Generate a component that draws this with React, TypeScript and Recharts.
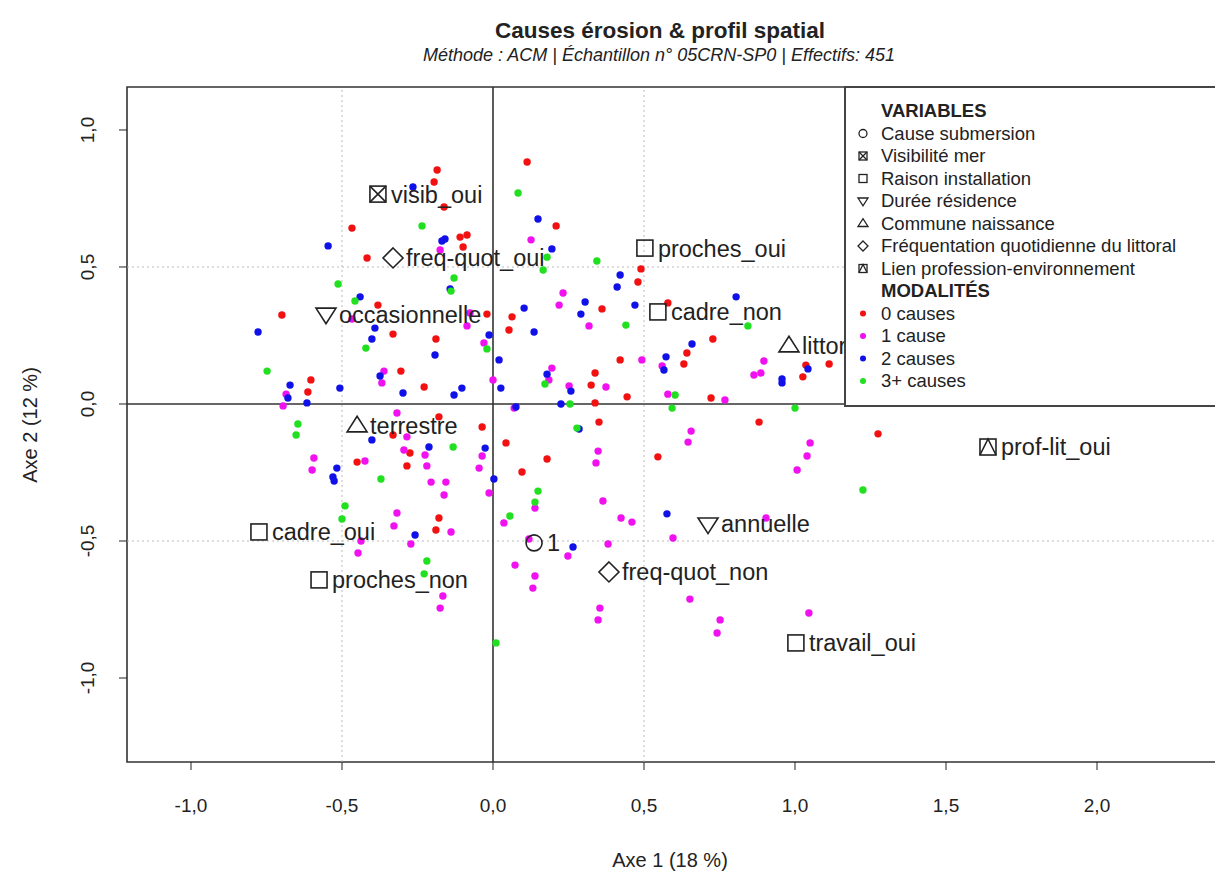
import React from 'react';
import {
  ScatterChart,
  Scatter,
  XAxis,
  YAxis,
  ReferenceLine,
  ReferenceArea,
} from 'recharts';

// individus (ACM), coordonnées : [axe 1, axe 2]
const cause0: [number, number][] = [
  [-0.185, 0.854], [-0.195, 0.81], [-0.162, 0.719], [-0.467, 0.642], [-0.417, 0.533],
  [-0.381, 0.361], [-0.699, 0.325], [-0.109, 0.609], [-0.086, 0.617], [-0.099, 0.573],
  [0.113, 0.883], [0.209, 0.65], [0.49, 0.493], [0.48, 0.445], [0.361, 0.347],
  [0.063, 0.318], [-0.02, 0.328], [0.579, 0.369], [-0.331, 0.255], [-0.189, 0.237],
  [-0.305, 0.12], [-0.603, 0.088], [-0.613, 0.044], [-0.228, 0.062], [-0.179, -0.047],
  [-0.331, -0.113], [-0.275, -0.179], [-0.45, -0.212], [-0.285, -0.226], [0.053, 0.27],
  [0.421, 0.161], [0.338, 0.113], [0.325, 0.069], [0.444, 0.026], [0.338, 0.004],
  [0.351, -0.066], [-0.036, -0.084], [0.043, -0.142], [0.546, -0.193], [0.179, -0.201],
  [0.096, -0.248], [0.728, 0.237], [0.642, 0.186], [0.632, 0.146], [1.036, 0.142],
  [1.026, 0.099], [1.113, 0.146], [0.722, 0.022], [0.881, -0.066], [1.275, -0.109],
  [-0.179, -0.416], [-0.189, -0.46],
];

const cause1: [number, number][] = [
  [-0.175, 0.562], [0.126, 0.599], [0.232, 0.405], [0.219, 0.361], [-0.076, 0.332],
  [-0.467, 0.31], [-0.361, 0.12], [-0.368, 0.077], [-0.685, 0.036], [-0.695, -0.007],
  [-0.318, -0.033], [-0.285, -0.12], [-0.295, -0.168], [-0.225, -0.186], [-0.424, -0.208],
  [-0.593, -0.197], [-0.219, -0.226], [-0.599, -0.241], [-0.205, -0.285], [-0.156, -0.285],
  [-0.086, 0.285], [0.318, 0.285], [-0.03, 0.223], [0.493, 0.161], [0.56, 0.139],
  [0.195, 0.131], [0.185, 0.088], [0.374, 0.062], [0.252, 0.066], [0.579, 0.036],
  [0.0, 0.088], [0.07, -0.015], [0.348, -0.172], [0.341, -0.215], [-0.036, -0.19],
  [-0.046, -0.234], [0.897, 0.157], [0.864, 0.106], [0.887, 0.113], [0.768, 0.015],
  [0.656, -0.099], [0.646, -0.139], [1.05, -0.142], [1.04, -0.19], [1.007, -0.241],
  [-0.162, -0.332], [-0.318, -0.398], [-0.328, -0.445], [-0.139, -0.467], [-0.437, -0.5],
  [-0.272, -0.511], [-0.447, -0.544], [-0.166, -0.701], [-0.175, -0.745], [-0.013, -0.325],
  [0.139, -0.38], [0.036, -0.434], [0.364, -0.354], [0.424, -0.416], [0.46, -0.431],
  [0.381, -0.511], [0.248, -0.555], [0.073, -0.588], [0.139, -0.628], [0.132, -0.672],
  [0.354, -0.745], [0.348, -0.788], [0.904, -0.416], [0.596, -0.489], [0.652, -0.712],
  [0.752, -0.788], [0.742, -0.836], [1.046, -0.763], [0.119, -0.493],
];

const cause2: [number, number][] = [
  [-0.265, 0.792], [-0.169, 0.595], [-0.159, 0.602], [-0.546, 0.577], [-0.142, 0.42],
  [-0.44, 0.391], [0.149, 0.675], [0.195, 0.566], [0.421, 0.471], [0.411, 0.427],
  [0.305, 0.372], [0.291, 0.328], [0.47, 0.361], [0.103, 0.35], [0.805, 0.391],
  [-0.778, 0.263], [-0.391, 0.277], [-0.401, 0.237], [-0.192, 0.179], [-0.374, 0.102],
  [-0.672, 0.069], [-0.507, 0.058], [-0.298, 0.04], [-0.129, 0.033], [-0.679, 0.022],
  [-0.616, 0.004], [-0.401, -0.131], [-0.212, -0.157], [-0.517, -0.234], [-0.53, -0.266],
  [-0.526, -0.281], [0.136, 0.263], [-0.013, 0.252], [0.02, 0.161], [0.573, 0.172],
  [0.566, 0.124], [0.179, 0.109], [0.258, 0.047], [0.026, 0.058], [-0.103, 0.058],
  [0.076, -0.011], [0.225, 0.0], [0.285, -0.091], [-0.026, -0.161], [0.003, -0.274],
  [0.659, 0.219], [0.957, 0.091], [0.957, 0.077], [1.043, 0.128], [-0.258, -0.478],
  [0.265, -0.522], [0.576, -0.401],
];

const cause3: [number, number][] = [
  [-0.235, 0.65], [0.083, 0.77], [0.179, 0.536], [0.166, 0.489], [0.344, 0.522],
  [-0.129, 0.46], [-0.139, 0.412], [-0.513, 0.438], [-0.457, 0.376], [-0.421, 0.204],
  [-0.748, 0.12], [-0.646, -0.073], [-0.652, -0.113], [-0.132, -0.157], [-0.371, -0.274],
  [0.44, 0.288], [-0.02, 0.201], [0.172, 0.073], [0.255, 0.0], [0.278, -0.088],
  [0.844, 0.285], [0.603, 0.033], [0.593, -0.015], [1.0, -0.015], [-0.49, -0.372],
  [-0.5, -0.42], [-0.219, -0.573], [-0.228, -0.62], [0.149, -0.318], [0.139, -0.358],
  [0.056, -0.409], [0.01, -0.872], [1.225, -0.314],
];

// modalités des variables actives
const varCauseSubmersion = [{ name: '1', x: 0.136, y: -0.507 }];
const varVisibiliteMer = [{ name: 'visib_oui', x: -0.381, y: 0.766 }];
const varRaisonInstallation = [
  { name: 'proches_oui', x: 0.503, y: 0.569 },
  { name: 'cadre_non', x: 0.546, y: 0.336 },
  { name: 'cadre_oui', x: -0.775, y: -0.467 },
  { name: 'proches_non', x: -0.576, y: -0.642 },
  { name: 'travail_oui', x: 1.003, y: -0.872 },
];
const varDureeResidence = [
  { name: 'occasionnelle', x: -0.553, y: 0.328 },
  { name: 'annuelle', x: 0.712, y: -0.438 },
];
const varCommuneNaissance = [
  { name: 'littoral', x: 0.98, y: 0.212 },
  { name: 'terrestre', x: -0.45, y: -0.08 },
];
const varFrequentation = [
  { name: 'freq-quot_oui', x: -0.331, y: 0.533 },
  { name: 'freq-quot_non', x: 0.384, y: -0.613 },
];
const varLienProfession = [{ name: 'prof-lit_oui', x: 1.639, y: -0.157 }];

const variableNames = [
  'Cause submersion',
  'Visibilité mer',
  'Raison installation',
  'Durée résidence',
  'Commune naissance',
  'Fréquentation quotidienne du littoral',
  'Lien profession-environnement',
];
const modaliteNames = ['0 causes', '1 cause', '2 causes', '3+ causes'];

const xTicks = [-1, -0.5, 0, 0.5, 1, 1.5, 2];
const yTicks = [-1, -0.5, 0, 0.5, 1];

const FONT = '"Liberation Sans", Arial, Helvetica, sans-serif';
const INK = '#222';
const COLORS = ['#f21010', '#f010f0', '#1010e8', '#20e020'];
const KINDS = ['circle', 'boxX', 'square', 'triDown', 'triUp', 'diamond', 'boxTri'];

const X_DOMAIN: [number, number] = [-1.2119, 2.4735];
const Y_DOMAIN: [number, number] = [-1.3066, 1.1569];

const toPts = (arr: [number, number][]) => arr.map(([x, y]) => ({ x, y }));
const fmt = (v: number) => v.toFixed(1).replace('.', ',');

const Symbol = ({ kind, cx, cy, s, sw }: { kind: string; cx: number; cy: number; s: number; sw: number }) => {
  const p = { fill: 'none', stroke: INK, strokeWidth: sw };
  switch (kind) {
    case 'circle':
      return <circle cx={cx} cy={cy} r={s} {...p} />;
    case 'square':
      return <rect x={cx - s} y={cy - s} width={2 * s} height={2 * s} {...p} />;
    case 'boxX':
      return (
        <g {...p}>
          <rect x={cx - s} y={cy - s} width={2 * s} height={2 * s} />
          <path d={`M${cx - s},${cy - s}L${cx + s},${cy + s}M${cx + s},${cy - s}L${cx - s},${cy + s}`} />
        </g>
      );
    case 'boxTri':
      return (
        <g {...p}>
          <rect x={cx - s} y={cy - s} width={2 * s} height={2 * s} />
          <path d={`M${cx - s},${cy + s}L${cx},${cy - s}L${cx + s},${cy + s}`} />
        </g>
      );
    case 'triDown': {
      const w = s * 1.25;
      return <polygon points={`${cx - w},${cy - s * 0.75} ${cx + w},${cy - s * 0.75} ${cx},${cy + s * 1.2}`} {...p} />;
    }
    case 'triUp': {
      const w = s * 1.25;
      return <polygon points={`${cx - w},${cy + s * 0.75} ${cx + w},${cy + s * 0.75} ${cx},${cy - s * 1.2}`} {...p} />;
    }
    case 'diamond': {
      const d = s * 1.25;
      return <polygon points={`${cx},${cy - d} ${cx + d},${cy} ${cx},${cy + d} ${cx - d},${cy}`} {...p} />;
    }
    default:
      return null;
  }
};

const varMark = (kind: string) => (props: any) => {
  const { cx, cy, payload } = props;
  return (
    <g>
      <Symbol kind={kind} cx={cx} cy={cy} s={8} sw={1.6} />
      <text x={cx + 13} y={cy} dy="0.36em" fontSize={23.5} fill={INK} fontFamily={FONT}>
        {payload.name}
      </text>
    </g>
  );
};

const dot = (color: string) => (props: any) => (
  <circle cx={props.cx} cy={props.cy} r={3.7} fill={color} />
);

const XTick = (props: any) => (
  <text x={props.x} y={props.y + 40} textAnchor="middle" fontSize={19} fill={INK} fontFamily={FONT}>
    {fmt(props.payload.value)}
  </text>
);

const YTick = (props: any) => {
  const bx = props.x - 23;
  return (
    <text
      x={bx}
      y={props.y}
      transform={`rotate(-90, ${bx}, ${props.y})`}
      textAnchor="middle"
      fontSize={19}
      fill={INK}
      fontFamily={FONT}
    >
      {fmt(props.payload.value)}
    </text>
  );
};

const Legend = () => {
  const step = 22.5;
  const fs = 18.5;
  const rows: React.ReactNode[] = [];
  let y = 31;
  rows.push(
    <text key="vh" x={37} y={y} fontWeight="bold" fontSize={fs}>VARIABLES</text>
  );
  variableNames.forEach((n, i) => {
    y += step;
    rows.push(
      <g key={'v' + i}>
        <Symbol kind={KINDS[i]} cx={19} cy={y - 6} s={4} sw={1.3} />
        <text x={37} y={y} fontSize={fs}>{n}</text>
      </g>
    );
  });
  y += step;
  rows.push(
    <text key="mh" x={37} y={y} fontWeight="bold" fontSize={fs}>MODALITÉS</text>
  );
  modaliteNames.forEach((n, i) => {
    y += step;
    rows.push(
      <g key={'m' + i}>
        <circle cx={19} cy={y - 6} r={3} fill={COLORS[i]} />
        <text x={37} y={y} fontSize={fs}>{n}</text>
      </g>
    );
  });
  return (
    <svg
      width={380}
      height={322}
      style={{ position: 'absolute', left: 844, top: 86 }}
      fontFamily={FONT}
      fill={INK}
    >
      <rect x={1} y={1} width={400} height={319} fill="#fff" stroke="#444" strokeWidth={2} />
      {rows}
    </svg>
  );
};

export default function App() {
  const series = [cause0, cause1, cause2, cause3];
  const vars = [
    varCauseSubmersion,
    varVisibiliteMer,
    varRaisonInstallation,
    varDureeResidence,
    varCommuneNaissance,
    varFrequentation,
    varLienProfession,
  ];
  return (
    <div style={{ position: 'relative', width: 1215, height: 875, overflow: 'hidden', background: '#fff' }}>
      <style>{'body{margin:0}'}</style>
      <ScatterChart width={1260} height={875} margin={{ top: 87, right: 20, bottom: 0, left: 0 }}>
        <XAxis
          type="number"
          dataKey="x"
          domain={X_DOMAIN}
          ticks={xTicks}
          allowDataOverflow
          height={113}
          axisLine={false}
          tickSize={8}
          tickLine={{ stroke: INK }}
          tick={<XTick />}
        />
        <YAxis
          type="number"
          dataKey="y"
          domain={Y_DOMAIN}
          ticks={yTicks}
          allowDataOverflow
          width={127}
          axisLine={false}
          tickSize={8}
          tickLine={{ stroke: INK }}
          tick={<YTick />}
        />
        {[-0.5, 0.5].map((v) => (
          <ReferenceLine key={'gx' + v} x={v} stroke="#bbb" strokeDasharray="2 3" />
        ))}
        {[-0.5, 0.5].map((v) => (
          <ReferenceLine key={'gy' + v} y={v} stroke="#bbb" strokeDasharray="2 3" />
        ))}
        <ReferenceLine x={0} stroke="#333" strokeWidth={1.6} />
        <ReferenceLine y={0} stroke="#333" strokeWidth={1.6} />
        <ReferenceArea
          x1={X_DOMAIN[0]}
          x2={X_DOMAIN[1]}
          y1={Y_DOMAIN[0]}
          y2={Y_DOMAIN[1]}
          fill="none"
          stroke="#333"
          strokeWidth={1.6}
        />
        {series.map((s, i) => (
          <Scatter
            key={'s' + i}
            data={toPts(s)}
            fill={COLORS[i]}
            shape={dot(COLORS[i])}
            isAnimationActive={false}
          />
        ))}
        {vars.map((v, i) => (
          <Scatter key={'v' + i} data={v} shape={varMark(KINDS[i])} isAnimationActive={false} />
        ))}
      </ScatterChart>
      <svg
        width={1215}
        height={875}
        style={{ position: 'absolute', left: 0, top: 0, pointerEvents: 'none' }}
        fontFamily={FONT}
        fill={INK}
      >
        <text x={660} y={38} textAnchor="middle" fontWeight="bold" fontSize={22.5}>
          Causes érosion &amp; profil spatial
        </text>
        <text x={659} y={61} textAnchor="middle" fontStyle="italic" fontSize={18}>
          Méthode : ACM | Échantillon n° 05CRN-SP0 | Effectifs: 451
        </text>
        <text x={670} y={867} textAnchor="middle" fontSize={20}>
          Axe 1 (18 %)
        </text>
        <text x={37} y={425} textAnchor="middle" fontSize={20} transform="rotate(-90, 37, 425)">
          Axe 2 (12 %)
        </text>
      </svg>
      <Legend />
    </div>
  );
}
